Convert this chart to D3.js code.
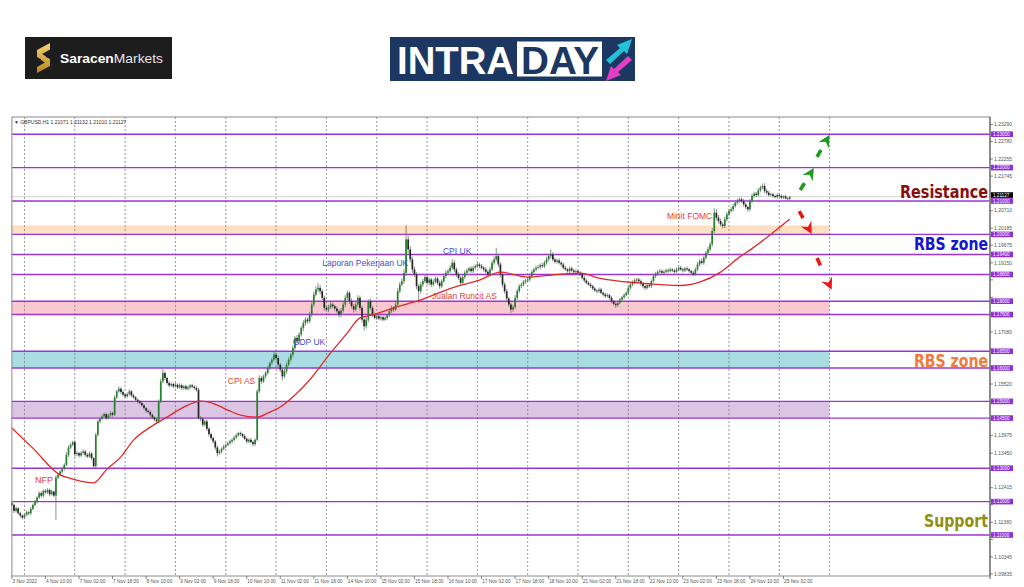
<!DOCTYPE html>
<html lang="en">
<head>
<meta charset="UTF-8">
<title>GBPUSD H1 Intraday</title>
<style>
  html, body { margin: 0; padding: 0; background: #fff; }
  svg { display: block; font-family: "Liberation Sans", Arial, sans-serif; }
</style>
</head>
<body>
<svg id="chart"></svg>
<script src="https://d3js.org/d3.v7.min.js"></script>
<script>
// GBPUSD H1, 3 Nov 18:00 .. 25 Nov 05:00 (one value per hourly bar)
const firstOpen = 1.1195;
const closes = [
  1.1190, 1.1172, 1.1180, 1.1165, 1.1158, 1.1152,
  1.1160, 1.1168, 1.1165, 1.1178, 1.1190, 1.1200, 1.1212, 1.1225, 1.1218, 1.1232, 1.1228, 1.1235, 1.1222, 1.1230, 1.1218, 1.1272, 1.1280, 1.1290, 1.1298, 1.1310, 1.1340, 1.1362, 1.1370, 1.1378,
  1.1342, 1.1345, 1.1338, 1.1346, 1.1350, 1.1340, 1.1335, 1.1344, 1.1330, 1.1306, 1.1400, 1.1440, 1.1448, 1.1455, 1.1462, 1.1450, 1.1458, 1.1465, 1.1460, 1.1512, 1.1530, 1.1538, 1.1528, 1.1520,
  1.1515, 1.1522, 1.1530, 1.1518, 1.1512, 1.1505, 1.1500, 1.1495, 1.1488, 1.1480, 1.1472, 1.1468, 1.1460, 1.1452, 1.1446, 1.1440, 1.1500, 1.1560, 1.1585, 1.1570, 1.1555, 1.1548, 1.1552, 1.1545,
  1.1550, 1.1542, 1.1548, 1.1540, 1.1545, 1.1538, 1.1542, 1.1548, 1.1544, 1.1540, 1.1535, 1.1450, 1.1448, 1.1430, 1.1440, 1.1418, 1.1402, 1.1390, 1.1380, 1.1362, 1.1345, 1.1350, 1.1358, 1.1365,
  1.1370, 1.1375, 1.1380, 1.1385, 1.1392, 1.1398, 1.1405, 1.1402, 1.1396, 1.1388, 1.1380, 1.1385, 1.1378, 1.1372, 1.1385, 1.1530, 1.1570, 1.1560, 1.1575, 1.1585, 1.1600, 1.1615, 1.1625, 1.1640,
  1.1630, 1.1610, 1.1595, 1.1575, 1.1590, 1.1610, 1.1625, 1.1640, 1.1660, 1.1690, 1.1680, 1.1700, 1.1720, 1.1735, 1.1745, 1.1740, 1.1760, 1.1790, 1.1820, 1.1835, 1.1840, 1.1830, 1.1810, 1.1780,
  1.1775, 1.1782, 1.1790, 1.1785, 1.1778, 1.1770, 1.1760, 1.1772, 1.1790, 1.1810, 1.1825, 1.1800, 1.1785, 1.1775, 1.1790, 1.1810, 1.1780, 1.1745, 1.1725, 1.1745, 1.1800, 1.1780, 1.1760, 1.1750,
  1.1755, 1.1748, 1.1752, 1.1745, 1.1750, 1.1758, 1.1770, 1.1780, 1.1775, 1.1790, 1.1830, 1.1850, 1.1860, 1.1885, 1.1985, 1.1955, 1.1925, 1.1895, 1.1880, 1.1845, 1.1830, 1.1850, 1.1860, 1.1872,
  1.1855, 1.1865, 1.1850, 1.1858, 1.1868, 1.1855, 1.1845, 1.1860, 1.1875, 1.1885, 1.1890, 1.1900, 1.1915, 1.1895, 1.1880, 1.1870, 1.1855, 1.1872, 1.1885, 1.1892, 1.1898, 1.1890, 1.1900, 1.1905,
  1.1910, 1.1905, 1.1900, 1.1895, 1.1888, 1.1880, 1.1895, 1.1915, 1.1925, 1.1935, 1.1910, 1.1880, 1.1850, 1.1830, 1.1808, 1.1790, 1.1775, 1.1782, 1.1810, 1.1830, 1.1845, 1.1850, 1.1858, 1.1862,
  1.1865, 1.1875, 1.1888, 1.1895, 1.1900, 1.1902, 1.1908, 1.1905, 1.1915, 1.1925, 1.1935, 1.1940, 1.1925, 1.1918, 1.1922, 1.1915, 1.1910, 1.1900, 1.1895, 1.1890, 1.1898, 1.1892, 1.1888, 1.1890,
  1.1885, 1.1880, 1.1870, 1.1862, 1.1855, 1.1850, 1.1845, 1.1838, 1.1832, 1.1830, 1.1835, 1.1825, 1.1820, 1.1815, 1.1818, 1.1810, 1.1800, 1.1792, 1.1788, 1.1795, 1.1805, 1.1812, 1.1818, 1.1825,
  1.1840, 1.1850, 1.1855, 1.1862, 1.1865, 1.1860, 1.1852, 1.1845, 1.1840, 1.1848, 1.1845, 1.1860, 1.1875, 1.1882, 1.1888, 1.1890, 1.1885, 1.1888, 1.1892, 1.1890, 1.1895, 1.1892, 1.1888, 1.1895,
  1.1900, 1.1895, 1.1892, 1.1898, 1.1895, 1.1890, 1.1885, 1.1880, 1.1895, 1.1910, 1.1920, 1.1915, 1.1930, 1.1945, 1.1955, 1.1970, 1.2010, 1.2065, 1.2050, 1.2040, 1.2030, 1.2025, 1.2045, 1.2060,
  1.2070, 1.2075, 1.2085, 1.2095, 1.2100, 1.2105, 1.2100, 1.2090, 1.2082, 1.2075, 1.2100, 1.2115, 1.2122, 1.2118, 1.2132, 1.2140, 1.2145, 1.2130, 1.2125, 1.2118, 1.2120, 1.2115, 1.2112, 1.2118,
  1.2115, 1.2110, 1.2114, 1.2108, 1.2107, 1.2113
];
// wick lengths above / below the body, in pips (0.0001)
const upWick = [
  6, 4, 5, 3, 4, 3,
  4, 5, 3, 6, 4, 5, 4, 6, 5, 4, 6, 5, 4, 5, 3, 6, 5, 4, 6, 5, 8, 6, 5, 4,
  5, 6, 4, 5, 6, 4, 5, 6, 4, 3, 6, 5, 4, 6, 5, 4, 5, 6, 4, 6, 5, 7, 4, 5,
  4, 5, 6, 4, 5, 4, 3, 4, 5, 4, 3, 4, 5, 4, 3, 4, 6, 8, 11, 5, 4, 6, 5, 4,
  5, 4, 6, 5, 4, 5, 6, 4, 5, 4, 6, 5, 6, 5, 4, 6, 5, 4, 5, 4, 6, 5, 4, 5,
  4, 5, 6, 4, 5, 6, 4, 5, 4, 6, 5, 4, 6, 5, 4, 6, 8, 6, 5, 6, 7, 5, 6, 8,
  6, 7, 5, 6, 8, 6, 7, 5, 8, 6, 9, 7, 6, 8, 7, 6, 8, 7, 9, 10, 15, 8, 6, 7,
  6, 7, 8, 6, 5, 7, 6, 8, 7, 8, 7, 6, 8, 7, 6, 8, 7, 6, 8, 7, 6, 8, 5, 6,
  5, 6, 5, 4, 6, 5, 6, 7, 5, 8, 9, 7, 8, 10, 43, 12, 10, 8, 9, 7, 6, 8, 7, 6,
  7, 6, 5, 7, 6, 5, 7, 6, 8, 7, 6, 8, 10, 8, 6, 7, 5, 6, 7, 6, 5, 7, 6, 5,
  6, 5, 6, 5, 7, 6, 8, 7, 9, 25, 8, 7, 6, 7, 6, 5, 6, 7, 8, 7, 6, 5, 6, 5,
  6, 7, 6, 5, 7, 6, 5, 7, 6, 8, 7, 15, 7, 6, 5, 6, 5, 6, 5, 4, 6, 5, 4, 5,
  4, 5, 6, 5, 4, 5, 6, 4, 5, 4, 6, 5, 4, 5, 6, 4, 5, 4, 5, 6, 5, 4, 6, 5,
  6, 5, 7, 6, 5, 6, 5, 6, 5, 7, 6, 5, 7, 6, 5, 6, 5, 6, 5, 6, 5, 4, 5, 6,
  5, 6, 5, 4, 6, 5, 4, 5, 6, 7, 6, 8, 7, 6, 8, 7, 9, 13, 10, 8, 7, 6, 8, 7,
  6, 7, 6, 5, 7, 6, 5, 6, 5, 4, 6, 7, 6, 5, 7, 6, 7, 8, 6, 5, 4, 5, 4, 5,
  4, 5, 3, 4, 3, 0
];
const downWick = [
  4, 6, 5, 4, 6, 5,
  5, 4, 6, 5, 4, 5, 6, 4, 5, 6, 4, 5, 6, 4, 5, 73, 5, 4, 6, 5, 4, 6, 5, 4,
  8, 5, 6, 4, 5, 6, 5, 4, 6, 8, 4, 5, 6, 4, 5, 6, 4, 5, 6, 4, 5, 4, 6, 5,
  5, 4, 5, 6, 4, 5, 6, 5, 4, 5, 6, 4, 5, 6, 5, 8, 4, 5, 6, 7, 5, 6, 4, 5,
  4, 5, 4, 6, 5, 4, 5, 6, 4, 5, 6, 5, 7, 6, 5, 6, 7, 5, 6, 7, 10, 5, 6, 4,
  5, 4, 5, 6, 4, 5, 4, 6, 5, 4, 6, 5, 4, 6, 5, 4, 6, 7, 5, 6, 5, 7, 6, 5,
  7, 6, 8, 12, 6, 7, 5, 6, 8, 7, 6, 8, 7, 9, 8, 7, 6, 8, 7, 6, 8, 9, 7, 8,
  7, 8, 6, 7, 8, 6, 9, 7, 6, 8, 6, 8, 7, 9, 6, 7, 8, 9, 13, 7, 8, 6, 7, 5,
  6, 5, 6, 5, 4, 6, 5, 6, 7, 5, 6, 7, 6, 8, 10, 12, 9, 10, 8, 9, 35, 8, 7, 6,
  6, 7, 8, 6, 5, 7, 8, 6, 5, 7, 6, 5, 6, 8, 7, 6, 7, 5, 6, 7, 6, 5, 6, 5,
  5, 6, 5, 6, 5, 7, 6, 5, 6, 7, 8, 9, 8, 7, 8, 7, 10, 6, 5, 6, 5, 6, 5, 6,
  5, 6, 5, 6, 5, 4, 6, 5, 6, 5, 6, 7, 6, 5, 6, 5, 6, 5, 4, 5, 6, 4, 5, 4,
  5, 4, 5, 6, 5, 4, 6, 5, 4, 6, 5, 4, 6, 5, 4, 5, 6, 5, 8, 5, 4, 5, 6, 4,
  5, 6, 5, 4, 6, 5, 6, 7, 6, 5, 6, 5, 4, 5, 6, 5, 4, 5, 4, 5, 4, 5, 6, 4,
  5, 4, 6, 5, 4, 5, 6, 5, 4, 5, 6, 5, 6, 5, 6, 5, 7, 6, 8, 7, 6, 7, 6, 5,
  6, 5, 6, 5, 6, 5, 6, 7, 6, 7, 5, 6, 5, 6, 5, 6, 5, 6, 7, 5, 4, 5, 4, 5,
  4, 5, 4, 3, 4, 6
];

// moving average, read at sample bars
const maBars   = [0, 10, 23, 26, 39, 45, 52, 58, 66, 74, 82, 90, 94, 103, 109, 117, 122, 128, 135, 142, 152, 160, 166, 172, 182, 195, 210, 223, 233, 246, 252, 271, 280, 300, 319, 328, 338, 347, 352, 371];
const maValues = [1.1420, 1.1360, 1.1280, 1.1273, 1.1256, 1.1295, 1.1334, 1.1384, 1.1423, 1.1453, 1.1483, 1.1501, 1.1498, 1.1474, 1.1459, 1.1453, 1.1465, 1.1483, 1.1519, 1.1564, 1.1645, 1.1705, 1.1750, 1.1759, 1.1780, 1.1804, 1.1840, 1.1863, 1.1887, 1.1872, 1.1875, 1.1884, 1.1869, 1.1854, 1.1847, 1.1857, 1.1887, 1.1932, 1.1953, 1.2046];

const levels = [1.23000, 1.22000, 1.21000, 1.20000, 1.19400, 1.18800, 1.18000, 1.17600, 1.16500, 1.16000, 1.15000, 1.14500, 1.13000, 1.12000, 1.11000];
const zoneTop    = [1.2027, 1.1800, 1.1650, 1.1500];
const zoneBottom = [1.2000, 1.1760, 1.1600, 1.1450];
const zoneEndBar = 390;

const priceTicks = [1.23290, 1.22780, 1.22255, 1.21745, 1.21220, 1.20710, 1.20185, 1.19675, 1.19150, 1.18640, 1.18115, 1.17605, 1.17080, 1.16570, 1.16045, 1.15520, 1.15010, 1.14485, 1.13975, 1.13450, 1.12940, 1.12415, 1.11905, 1.11380, 1.10870, 1.10345, 1.09835];
const timeLabels = ['3 Nov 2022', '4 Nov 10:00', '7 Nov 02:00', '7 Nov 18:00', '8 Nov 10:00', '9 Nov 02:00', '9 Nov 18:00', '10 Nov 10:00', '11 Nov 02:00', '11 Nov 18:00', '14 Nov 10:00', '15 Nov 02:00', '15 Nov 18:00', '16 Nov 10:00', '17 Nov 02:00', '17 Nov 18:00', '18 Nov 10:00', '21 Nov 02:00', '21 Nov 18:00', '22 Nov 10:00', '23 Nov 02:00', '23 Nov 18:00', '24 Nov 10:00', '25 Nov 02:00'];

const eventNames  = ['NFP', 'CPI AS', 'GDP UK', 'Laporan Pekerjaan UK', 'CPI UK', 'Jualan Runcit AS', 'Minit FOMC'];
const eventBars   = [11, 103, 134, 148, 205.6, 200.4, 312.4];
const eventPrices = [1.1265, 1.1561, 1.1678, 1.1914, 1.1950, 1.1816, 1.2055];
const eventIsUS   = [true, true, false, false, false, true, true];

// scenario arrows: tail (bar, price) -> tip (bar, price)
const arrowTail = [[384, 1.2232], [376, 1.2133], [375.5, 1.2070], [384, 1.1929]];
const arrowTip  = [[390, 1.2298], [382.5, 1.2199], [381.5, 1.2001], [391, 1.1834]];
const arrowUp   = [true, true, false, false];

const header = '\u25BC GBPUSD,H1  1.21071 1.21132 1.21010 1.21127';

const W = 1024, H = 587;
const svg = d3.select('#chart').attr('width', W).attr('height', H);

const plotL = 11.9, plotR = 990, plotT = 117, plotB = 576;
const x = d3.scaleLinear().domain([0, 466.5]).range([plotL, plotR]);
const y = d3.scaleLinear().domain([1.09772, 1.23515]).range([plotB, plotT]);

// ---------- logos ----------
const defs = svg.append('defs');
const gold = defs.append('linearGradient').attr('id', 'gold').attr('x1', 0).attr('y1', 0).attr('x2', 0).attr('y2', 1);
gold.append('stop').attr('offset', '0%').attr('stop-color', '#f6d36e');
gold.append('stop').attr('offset', '100%').attr('stop-color', '#b9851c');

const logo1 = svg.append('g');
logo1.append('rect').attr('x', 25).attr('y', 37).attr('width', 147).attr('height', 42).attr('fill', '#1d1d1d');
logo1.append('path').attr('fill', 'url(#gold)')
  .attr('d', 'M50,43 L37,50 L37,57 L46,62 L46,56.5 L42,54 L50,49.5 Z M37,73 L50,66 L50,59 L41,54.5 L41,60 L45,62.5 L37,67 Z');
const lt = logo1.append('text').attr('x', 60).attr('y', 63).attr('font-size', 13.5)
  .attr('textLength', 103).attr('lengthAdjust', 'spacingAndGlyphs');
lt.append('tspan').attr('fill', '#fff').attr('font-weight', 'bold').text('Saracen');
lt.append('tspan').attr('fill', '#e6e6e6').text('Markets');

const logo2 = svg.append('g');
logo2.append('rect').attr('x', 390).attr('y', 37).attr('width', 245).attr('height', 44).attr('fill', '#1c3862');
logo2.append('text').attr('x', 397).attr('y', 74).attr('font-size', 38).attr('font-weight', 'bold')
  .attr('fill', '#fff').attr('textLength', 117).attr('lengthAdjust', 'spacingAndGlyphs').text('INTRA');
logo2.append('rect').attr('x', 517).attr('y', 41.5).attr('width', 85).attr('height', 35).attr('fill', '#fff');
logo2.append('text').attr('x', 521).attr('y', 74).attr('font-size', 38).attr('font-weight', 'bold')
  .attr('fill', '#1c3862').attr('textLength', 78).attr('lengthAdjust', 'spacingAndGlyphs').text('DAY');
logo2.append('path').attr('fill', '#22c3d9').attr('d', 'M606,60 L620,48 L617,45 L632,39 L627,54 L624,51 L610,64 Z');
logo2.append('path').attr('fill', '#e43ec5').attr('d', 'M632,60 L618,72 L621,75 L606,81 L611,66 L614,69 L628,56 Z');

// ---------- chart ----------
const chart = svg.append('g');

// zones
const zoneFill = ['#fde0c2', '#f9c8d1', '#a9dde3', '#dcc4e4'];
chart.selectAll('rect.zone').data(zoneTop).join('rect').attr('class', 'zone')
  .attr('x', x(0)).attr('width', x(zoneEndBar) - x(0))
  .attr('y', d => y(d)).attr('height', (d, i) => y(zoneBottom[i]) - y(d))
  .attr('fill', (d, i) => zoneFill[i]);

// vertical day grid
chart.selectAll('line.grid').data(d3.range(6, zoneEndBar + 1, 24)).join('line').attr('class', 'grid')
  .attr('x1', d => x(d)).attr('x2', d => x(d)).attr('y1', plotT).attr('y2', plotB)
  .attr('stroke', '#7d7d7d').attr('stroke-width', 0.8).attr('stroke-dasharray', '2,2');

// bid line
const last = closes[closes.length - 1];
chart.append('line').attr('x1', plotL).attr('x2', plotR).attr('y1', y(last)).attr('y2', y(last))
  .attr('stroke', '#c8c8c8').attr('stroke-width', 0.8);

// level lines
chart.selectAll('line.level').data(levels).join('line').attr('class', 'level')
  .attr('x1', plotL).attr('x2', plotR).attr('y1', d => y(d)).attr('y2', d => y(d))
  .attr('stroke', '#9b34d6').attr('stroke-width', 1.4);

// candles
const bars = closes.map((c, i) => {
  const o = i === 0 ? firstOpen : closes[i - 1];
  return {
    i, o, c,
    h: Math.max(o, c) + upWick[i] * 1e-4,
    l: Math.min(o, c) - downWick[i] * 1e-4
  };
});
const cg = chart.append('g');
cg.selectAll('line').data(bars).join('line')
  .attr('x1', d => x(d.i)).attr('x2', d => x(d.i))
  .attr('y1', d => y(d.h)).attr('y2', d => y(d.l))
  .attr('stroke', '#6f6f6f').attr('stroke-width', 0.8);
cg.selectAll('rect').data(bars).join('rect')
  .attr('x', d => x(d.i) - 0.85).attr('width', 1.7)
  .attr('y', d => y(Math.max(d.o, d.c)))
  .attr('height', d => Math.max(0.8, Math.abs(y(d.o) - y(d.c))))
  .attr('fill', d => d.c >= d.o ? '#24832a' : '#262626');

// moving average
chart.append('path').datum(maBars.map((b, k) => [b, maValues[k]]))
  .attr('d', d3.line().x(d => x(d[0])).y(d => y(d[1])).curve(d3.curveMonotoneX))
  .attr('fill', 'none').attr('stroke', '#e02a2a').attr('stroke-width', 1.3);

// events
chart.selectAll('text.event').data(eventNames).join('text').attr('class', 'event')
  .attr('x', (d, i) => x(eventBars[i])).attr('y', (d, i) => y(eventPrices[i]))
  .attr('dy', '0.35em').attr('font-size', (d, i) => i === 0 ? 9 : 8.5)
  .attr('fill', (d, i) => eventIsUS[i] ? '#e23c36' : '#3b4fcf')
  .text(d => d);

// arrows
arrowTail.forEach((t, k) => {
  const p0 = [x(t[0]), y(t[1])], p1 = [x(arrowTip[k][0]), y(arrowTip[k][1])];
  const dx = p1[0] - p0[0], dy = p1[1] - p0[1], len = Math.hypot(dx, dy);
  const ux = dx / len, uy = dy / len, px = -uy, py = ux;
  const col = arrowUp[k] ? '#1e9a1e' : '#e41b1b';
  chart.append('line')
    .attr('x1', p0[0]).attr('y1', p0[1]).attr('x2', p0[0] + ux * 8).attr('y2', p0[1] + uy * 8)
    .attr('stroke', col).attr('stroke-width', 3.6);
  const bx = p1[0] - ux * 12, by = p1[1] - uy * 12;
  const nx = p1[0] - ux * 8, ny = p1[1] - uy * 8;
  chart.append('path').attr('fill', col)
    .attr('d', `M${p1[0]},${p1[1]} L${bx + px * 6},${by + py * 6} L${nx},${ny} L${bx - px * 6},${by - py * 6} Z`);
});

// big zone labels, squeezed horizontally to their width in the picture
const bigLabels = [
  { t: 'Resistance', p: 1.2109, c: '#8a0d0d', w: 88 },
  { t: 'RBS zone', p: 1.1952, c: '#1515d0', w: 74 },
  { t: 'RBS zone', p: 1.1603, c: '#f27a3a', w: 74 },
  { t: 'Support', p: 1.1124, c: '#8f8f14', w: 64 }
];
bigLabels.forEach(d => {
  const t = chart.append('text')
    .attr('font-family', '"DejaVu Sans Condensed", "DejaVu Sans", sans-serif')
    .attr('font-weight', 'bold').attr('font-size', 18)
    .attr('fill', d.c).text(d.t);
  const sx = d.w / t.node().getComputedTextLength();
  t.attr('transform', `translate(${plotR - 2 - d.w},${y(d.p)}) scale(${sx},1)`);
});

// frame
chart.append('rect').attr('x', plotL).attr('y', plotT).attr('width', plotR - plotL).attr('height', plotB - plotT)
  .attr('fill', 'none').attr('stroke', '#8a8a8a').attr('stroke-width', 1);
chart.append('line').attr('x1', plotR).attr('x2', plotR).attr('y1', plotT).attr('y2', plotB + 3)
  .attr('stroke', '#555').attr('stroke-width', 1);

// header
chart.append('text').attr('x', plotL + 2).attr('y', plotT + 6.5).attr('font-size', 5)
  .attr('fill', '#333').text(header);

// right price axis (ticks hidden under a level tag are not printed)
const tagged = levels.concat([last]);
const visibleTicks = priceTicks.filter(p => d3.min(tagged, q => Math.abs(y(p) - y(q))) > 5.8);
const ax = svg.append('g');
ax.selectAll('line').data(priceTicks).join('line')
  .attr('x1', plotR).attr('x2', plotR + 3).attr('y1', d => y(d)).attr('y2', d => y(d))
  .attr('stroke', '#555').attr('stroke-width', 0.7);
ax.selectAll('text').data(visibleTicks).join('text')
  .attr('x', plotR + 4).attr('y', d => y(d)).attr('dy', '0.35em')
  .attr('font-size', 5).attr('fill', '#555').text(d => d.toFixed(5));

const lv = svg.append('g');
lv.selectAll('rect').data(levels).join('rect')
  .attr('x', plotR + 1).attr('y', d => y(d) - 2.8).attr('width', 22).attr('height', 5.6)
  .attr('fill', '#8f2fd6');
lv.selectAll('text').data(levels).join('text')
  .attr('x', plotR + 3).attr('y', d => y(d)).attr('dy', '0.35em')
  .attr('font-size', 4.6).attr('fill', '#fff').text(d => d.toFixed(5));

// current price tag
const tagY = y(last) - 1.6;
svg.append('rect').attr('x', plotR + 1).attr('y', tagY - 2.8).attr('width', 22).attr('height', 5.6).attr('fill', '#000');
svg.append('text').attr('x', plotR + 3).attr('y', tagY).attr('dy', '0.35em')
  .attr('font-size', 4.6).attr('fill', '#fff').text('1.21127');

// time axis
const tx = svg.append('g');
tx.selectAll('line').data(timeLabels).join('line')
  .attr('x1', (d, k) => x(k * 16)).attr('x2', (d, k) => x(k * 16))
  .attr('y1', plotB).attr('y2', plotB + 3).attr('stroke', '#555').attr('stroke-width', 0.7);
tx.selectAll('text').data(timeLabels).join('text')
  .attr('x', (d, k) => x(k * 16) + 0.5).attr('y', plotB + 7)
  .attr('font-size', 4.8).attr('fill', '#555').text(d => d);
</script>
</body>
</html>
